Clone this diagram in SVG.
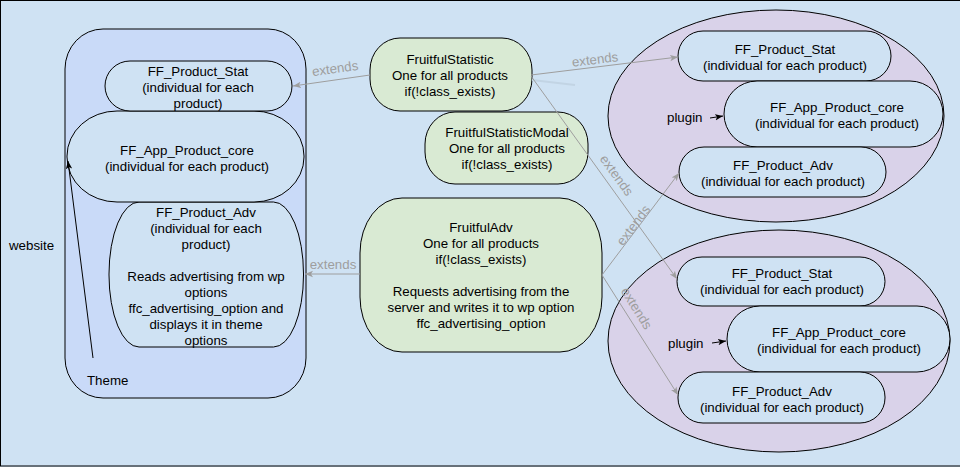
<svg xmlns="http://www.w3.org/2000/svg" width="960" height="467" viewBox="0 0 960 467">
<defs>
<style>
.t{font-family:"Liberation Sans",Arial,sans-serif;font-size:13.3px;fill:#000;text-anchor:middle}
.ts{font-family:"Liberation Sans",Arial,sans-serif;font-size:13.3px;fill:#000}
.lbl{font-family:"Liberation Sans",Arial,sans-serif;font-size:13.3px;fill:#9e9e9e;text-anchor:middle}
.n{fill:#cfe2f3;stroke:#000;stroke-width:1}
.g{fill:#d9ead3;stroke:#000;stroke-width:1}
.e{fill:#d9d2e9;stroke:#000;stroke-width:1}
.c{fill:none;stroke:#9e9e9e;stroke-width:1;marker-end:url(#ag)}
.k{fill:none;stroke:#000;stroke-width:1;marker-end:url(#ak)}
</style>
<marker id="ag" markerUnits="userSpaceOnUse" markerWidth="10" markerHeight="8" refX="8" refY="4" orient="auto">
<path d="M0,0.8 L8,4 L0,7.2 L2,4 Z" fill="#9e9e9e"/>
</marker>
<marker id="ak" markerUnits="userSpaceOnUse" markerWidth="10" markerHeight="8" refX="8" refY="4" orient="auto">
<path d="M0,0.8 L8,4 L0,7.2 L2,4 Z" fill="#000"/>
</marker>
</defs>
<rect x="0" y="0" width="960" height="467" fill="#cfe2f3"/>
<rect id="website" x="0.5" y="0.5" width="1000" height="465.5" fill="#cfe2f3" stroke="#000" stroke-width="1"/>
<text class="ts" x="9" y="250">website</text>

<g id="theme">
<rect x="65" y="29" width="241" height="369" rx="38" ry="40" fill="#c9daf8" stroke="#000" stroke-width="1"/>
<text class="ts" x="87" y="385">Theme</text>
</g>

<g id="plugin1">
<ellipse class="e" cx="776" cy="116" rx="168" ry="106"/>
<text class="ts" x="667" y="122">plugin</text>
</g>
<g id="plugin2">
<ellipse class="e" cx="779" cy="341" rx="171" ry="111"/>
<text class="ts" x="668" y="348">plugin</text>
</g>

<g id="left-adv">
<rect class="n" x="109" y="202" width="194.5" height="145" rx="30" ry="72"/>
<text class="t" x="206" y="217">FF_Product_Adv<tspan x="206" dy="16">(individual for each</tspan><tspan x="206" dy="16">product)</tspan><tspan x="206" dy="32">Reads advertising from wp</tspan><tspan x="206" dy="16">options</tspan><tspan x="206" dy="16">ffc_advertising_option and</tspan><tspan x="206" dy="16">displays it in theme</tspan><tspan x="206" dy="16">options</tspan></text>
</g>
<g id="left-core">
<rect class="n" x="67" y="111" width="237" height="91" rx="50" ry="45"/>
<text class="t" x="187" y="155">FF_App_Product_core<tspan x="187" dy="16">(individual for each product)</tspan></text>
</g>
<g id="left-stat">
<rect class="n" x="105" y="61" width="187" height="50" rx="25" ry="25"/>
<text class="t" x="198" y="76">FF_Product_Stat<tspan x="198" dy="16">(individual for each</tspan><tspan x="198" dy="16">product)</tspan></text>
</g>

<g id="fruitful-statistic">
<rect class="g" x="370" y="38" width="162" height="73" rx="30" ry="32"/>
<text class="t" x="450" y="64">FruitfulStatistic<tspan x="450" dy="16">One for all products</tspan><tspan x="450" dy="16">if(!class_exists)</tspan></text>
</g>
<g id="fruitful-statistic-modal">
<rect class="g" x="425" y="112" width="163" height="72" rx="30" ry="32"/>
<text class="t" x="507" y="137">FruitfulStatisticModal<tspan x="507" dy="16">One for all products</tspan><tspan x="507" dy="16">if(!class_exists)</tspan></text>
</g>
<g id="fruitful-adv">
<rect class="g" x="360" y="198" width="242" height="154" rx="42" ry="55"/>
<text class="t" x="481" y="232">FruitfulAdv<tspan x="481" dy="16">One for all products</tspan><tspan x="481" dy="16">if(!class_exists)</tspan><tspan x="481" dy="32">Requests advertising from the</tspan><tspan x="481" dy="16">server and writes it to wp option</tspan><tspan x="481" dy="16">ffc_advertising_option</tspan></text>
</g>

<g id="r1-stat">
<rect class="n" x="678" y="31" width="213" height="50" rx="25" ry="25"/>
<text class="t" x="785" y="54">FF_Product_Stat<tspan x="785" dy="16">(individual for each product)</tspan></text>
</g>
<g id="r1-core">
<rect class="n" x="724" y="81" width="219" height="66" rx="33" ry="33"/>
<text class="t" x="837" y="112">FF_App_Product_core<tspan x="837" dy="16">(individual for each product)</tspan></text>
</g>
<g id="r1-adv">
<rect class="n" x="679" y="147" width="207" height="50" rx="25" ry="25"/>
<text class="t" x="783" y="170">FF_Product_Adv<tspan x="783" dy="16">(individual for each product)</tspan></text>
</g>

<g id="r2-stat">
<rect class="n" x="677" y="257" width="208" height="49" rx="25" ry="25"/>
<text class="t" x="782" y="278">FF_Product_Stat<tspan x="782" dy="16">(individual for each product)</tspan></text>
</g>
<g id="r2-core">
<rect class="n" x="727" y="306" width="223" height="66" rx="33" ry="33"/>
<text class="t" x="839" y="337">FF_App_Product_core<tspan x="839" dy="16">(individual for each product)</tspan></text>
</g>
<g id="r2-adv">
<rect class="n" x="678" y="372" width="207" height="51" rx="25" ry="25"/>
<text class="t" x="782" y="396">FF_Product_Adv<tspan x="782" dy="16">(individual for each product)</tspan></text>
</g>

<g id="connectors">
<line class="k" x1="93" y1="358" x2="68" y2="161"/>
<line class="k" x1="710" y1="118" x2="723" y2="116"/>
<line class="k" x1="712" y1="343" x2="726" y2="341"/>
<line x1="532" y1="80" x2="575" y2="85" stroke="#c2d4e4" stroke-width="2"/>
<line class="c" x1="370" y1="75" x2="293" y2="86"/>
<line class="c" x1="531" y1="75" x2="678" y2="57"/>
<line class="c" x1="531" y1="76" x2="677" y2="279"/>
<line class="c" x1="602" y1="275" x2="679" y2="173"/>
<line class="c" x1="602" y1="275" x2="678" y2="395"/>
<line class="c" x1="360" y1="274" x2="305" y2="274"/>
<text class="lbl" x="335" y="73" transform="rotate(-8 335 68)">extends</text>
<text class="lbl" x="595" y="64" transform="rotate(-7 595 59)">extends</text>
<text class="lbl" x="617" y="180" transform="rotate(54 617 175)">extends</text>
<text class="lbl" x="633" y="230" transform="rotate(-53 633 225)">extends</text>
<text class="lbl" x="637" y="313" transform="rotate(58 637 308)">extends</text>
<text class="lbl" x="333" y="269">extends</text>
</g>
</svg>
